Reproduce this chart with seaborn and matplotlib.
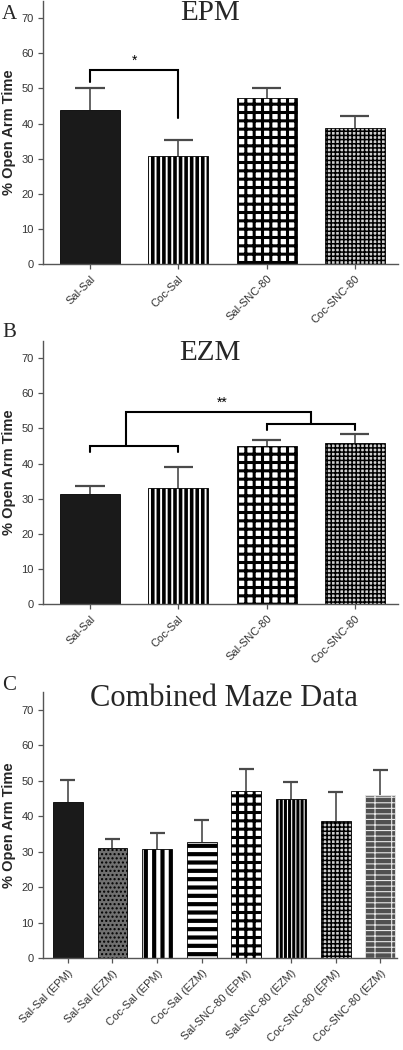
import matplotlib
matplotlib.use('Agg')
import matplotlib.pyplot as plt
import seaborn as sns
import numpy as np

# Data (% open arm time, bar top and top of error bar)
groups = ['Sal-Sal', 'Coc-Sal', 'Sal-SNC-80', 'Coc-SNC-80']
epm_mean = [44.0, 30.8, 47.2, 38.7]
epm_upper = [50.2, 35.3, 50.2, 42.3]
ezm_mean = [31.3, 33.1, 45.0, 46.0]
ezm_upper = [33.5, 39.0, 46.8, 48.5]

combined_groups = ['Sal-Sal (EPM)', 'Sal-Sal (EZM)', 'Coc-Sal (EPM)', 'Coc-Sal (EZM)',
                   'Sal-SNC-80 (EPM)', 'Sal-SNC-80 (EZM)', 'Coc-SNC-80 (EPM)', 'Coc-SNC-80 (EZM)']
combined_mean = [44.1, 31.2, 30.8, 32.9, 47.2, 45.0, 38.7, 46.1]
combined_upper = [50.2, 33.5, 35.3, 39.1, 53.4, 49.6, 46.9, 53.0]

yticks = [0, 10, 20, 30, 40, 50, 60, 70]

sns.set_theme(style='ticks')
plt.rcParams['font.family'] = ['Liberation Sans', 'DejaVu Sans']

# (facecolor, hatch, hatch colour, hatch linewidth)
styles4 = [
    ('#1a1a1a', None, 'black', 1.0),
    ('white', '|||', 'black', 2.6),
    ('white', '++', 'black', 2.2),
    ('#d0d0d0', '++++', 'black', 1.1),
]
styles8 = [
    ('#1a1a1a', None, 'black', 1.0),
    ('#707070', '....', 'black', 1.0),
    ('white', '||', 'black', 3.0),
    ('white', '--', 'black', 3.0),
    ('white', '++', 'black', 2.2),
    ('white', '||||', 'black', 2.2),
    ('#d0d0d0', '++++', 'black', 1.1),
    ('#505050', '---|', '#e8e8e8', 0.8),
]


def hatch_draw(p, lw):
    # hatch linewidth is an rcParam; apply it per bar while drawing
    orig = p.draw

    def draw(renderer):
        with plt.rc_context({'hatch.linewidth': lw}):
            orig(renderer)
    return draw


def style_bars(ax, styles):
    for p, (fc, hatch, hc, hlw) in zip(ax.patches, styles):
        p.set_facecolor(fc)
        p.set_edgecolor(hc)
        p.set_linewidth(0.6)
        if hatch:
            p.set_hatch(hatch)
            if hasattr(p, 'set_hatch_linewidth'):
                p.set_hatch_linewidth(hlw)
            if hasattr(p, '_hatch_linewidth'):
                p._hatch_linewidth = hlw
            p.draw = hatch_draw(p, hlw)


def draw_panel(ax, cats, means, upper, styles, width, capfrac, xlim):
    sns.barplot(x=cats, y=means, ax=ax, width=width, color='k', saturation=1, errorbar=None)
    style_bars(ax, styles)
    xs = np.array([p.get_x() + p.get_width() / 2 for p in ax.patches])
    half = np.array([p.get_width() for p in ax.patches]) * capfrac
    ax.vlines(xs, means, upper, color='#4a4a4a', lw=1.2, zorder=1)
    ax.hlines(upper, xs - half, xs + half, color='#4a4a4a', lw=1.6, zorder=1)
    ax.set_ylim(0, 75)
    ax.set_xlim(*xlim)
    ax.set_yticks(yticks)
    ax.set_ylabel('% Open Arm Time', fontsize=10.5, fontweight='bold', labelpad=4)
    ax.tick_params(axis='both', labelsize=8, colors='#555555', labelcolor='#333333',
                   length=3.5, width=0.9)
    plt.setp(ax.get_xticklabels(), rotation=45, ha='right', rotation_mode='anchor')
    sns.despine(ax=ax)
    for s in ['left', 'bottom']:
        ax.spines[s].set_color('#555555')
        ax.spines[s].set_linewidth(1.0)


def bracket(ax, x0, x1, y, y0, y1):
    ax.plot([x0, x0, x1, x1], [y0, y, y, y1], color='black', lw=1.5, solid_joinstyle='miter')


fig = plt.figure(figsize=(4.03, 10.5), dpi=100)
axA = fig.add_axes([0.1075, 0.7486, 0.880, 0.2507])
axB = fig.add_axes([0.1075, 0.4248, 0.880, 0.2507])
axC = fig.add_axes([0.1075, 0.0873, 0.878, 0.2536])

draw_panel(axA, groups, epm_mean, epm_upper, styles4, 0.68, 0.245, (-0.53, 3.49))
draw_panel(axB, groups, ezm_mean, ezm_upper, styles4, 0.68, 0.245, (-0.53, 3.49))
draw_panel(axC, combined_groups, combined_mean, combined_upper, styles8, 0.67, 0.25, (-0.55, 7.38))

# Panel A significance
bracket(axA, 0, 1, 55.3, 51.8, 41.6)
axA.text(0.5, 55.8, '*', ha='center', va='bottom', fontsize=10, color='black')

# Panel B significance
bracket(axB, 0, 1, 45.0, 43.4, 43.4)
bracket(axB, 2, 3, 51.3, 49.6, 49.6)
bracket(axB, 0.41, 2.5, 54.8, 45.0, 51.3)
axB.text(1.5, 55.2, '**', ha='center', va='bottom', fontsize=10, color='black')

serif = ['Liberation Serif', 'DejaVu Serif']
axA.text(0.47, 0.927, 'EPM', transform=axA.transAxes, ha='center', va='baseline',
         fontsize=21, family=serif)
axB.text(0.47, 0.925, 'EZM', transform=axB.transAxes, ha='center', va='baseline',
         fontsize=21, family=serif)
axC.text(0.51, 0.947, 'Combined Maze Data', transform=axC.transAxes, ha='center',
         va='baseline', fontsize=22, family=serif)

fig.text(0.005, 1 - 19 / 1050, 'A', fontsize=15, family=serif, va='baseline')
fig.text(0.005, 1 - 337 / 1050, 'B', fontsize=15, family=serif, va='baseline')
fig.text(0.005, 1 - 690 / 1050, 'C', fontsize=15, family=serif, va='baseline')

fig.savefig('out.png', dpi=100)
